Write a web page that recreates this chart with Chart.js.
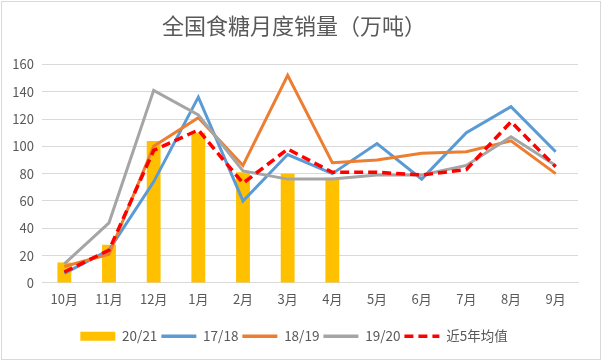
<!DOCTYPE html>
<html><head><meta charset="utf-8">
<script src="https://cdn.jsdelivr.net/npm/chart.js@4"></script>
<style>
html,body{margin:0;padding:0;background:#fff;}
#wrap{position:relative;width:602px;height:361px;}
canvas{display:block;}
</style></head>
<body><div id="wrap"><canvas id="c" width="602" height="361"></canvas></div>
<script>
const categories = ['10月','11月','12月','1月','2月','3月','4月','5月','6月','7月','8月','9月'];
const s2021 = [15, 28, 104, 110, 81, 80, 77, null, null, null, null, null];
const s1718 = [7, 24, 74, 136, 60, 94, 80, 102, 76, 110, 129, 96];
const s1819 = [12, 21, 100, 121, 86, 152, 88, 90, 95, 96, 104, 80];
const s1920 = [14, 44, 141, 123, 82, 76, 76, 79, 79, 86, 107, 86];
const sAvg  = [8, 24, 97, 112, 73, 98, 81, 81, 79, 83, 118, 85];
const yTicks = [0, 20, 40, 60, 80, 100, 120, 140, 160];

const FONT = "'Noto Sans CJK SC', 'Noto Sans', sans-serif";
const TXT = '#595959';

const borderPlugin = {
  id: 'border',
  afterDraw(chart) {
    const ctx = chart.ctx;
    ctx.save();
    ctx.strokeStyle = '#d9d9d9';
    ctx.lineWidth = 1;
    ctx.strokeRect(1.5, 1.5, chart.width - 3, chart.height - 3);
    ctx.restore();
  }
};

new Chart(document.getElementById('c'), {
  data: {
    labels: categories,
    datasets: [
      {type:'bar', label:'20/21', data:s2021, backgroundColor:'#ffc000', barPercentage:0.31, categoryPercentage:1, order:5},
      {type:'line', label:'17/18', data:s1718, borderColor:'#5b9bd5', backgroundColor:'#5b9bd5', borderWidth:3, pointRadius:0, tension:0, order:4},
      {type:'line', label:'18/19', data:s1819, borderColor:'#ed7d31', backgroundColor:'#ed7d31', borderWidth:3, pointRadius:0, tension:0, order:3},
      {type:'line', label:'19/20', data:s1920, borderColor:'#a5a5a5', backgroundColor:'#a5a5a5', borderWidth:3, pointRadius:0, tension:0, order:2},
      {type:'line', label:'近5年均值', data:sAvg, borderColor:'#ff0000', backgroundColor:'#ff0000', borderWidth:3.5, borderDash:[9,5], pointRadius:0, tension:0, order:1}
    ]
  },
  options: {
    responsive:false,
    animation:false,
    devicePixelRatio:1,
    layout:{padding:{left:10, right:24, top:0, bottom:8}},
    plugins:{
      title:{display:true, text:'全国食糖月度销量（万吨）', color:TXT,
        font:{family:FONT, size:22, weight:'normal', lineHeight:1.2}, padding:{top:12, bottom:26}},
      legend:{position:'bottom',
        labels:{
          color:TXT, font:{family:FONT, size:13.5}, boxWidth:35, boxHeight:9, padding:4,
          usePointStyle:true, pointStyleWidth:35,
          generateLabels(chart){
            return chart.data.datasets.map((ds,i)=>({
              text: ds.label,
              fillStyle: ds.backgroundColor,
              strokeStyle: ds.borderColor || ds.backgroundColor,
              lineWidth: ds.type==='bar' ? 0 : 3.5,
              lineDash: ds.borderDash || [],
              pointStyle: ds.type==='bar' ? 'rect' : 'line',
              fontColor: TXT,
              hidden:false,
              datasetIndex:i
            }));
          }
        }
      },
      tooltip:{enabled:false}
    },
    scales:{
      x:{
        grid:{display:false, drawTicks:false},
        border:{color:'#d9d9d9', width:1},
        afterFit(scale){ scale.height += 11; },
        ticks:{color:TXT, font:{family:FONT, size:13}, padding:8, maxRotation:0}
      },
      y:{
        min:0, max:160,
        afterBuildTicks(scale){ scale.ticks = yTicks.map(v=>({value:v})); },
        afterFit(scale){ scale.width = 32; },
        grid:{color:'#d9d9d9', lineWidth:1, drawTicks:false},
        border:{display:false},
        ticks:{color:TXT, font:{family:FONT, size:13}, padding:8}
      }
    }
  },
  plugins:[borderPlugin]
});
</script>
</body></html>
